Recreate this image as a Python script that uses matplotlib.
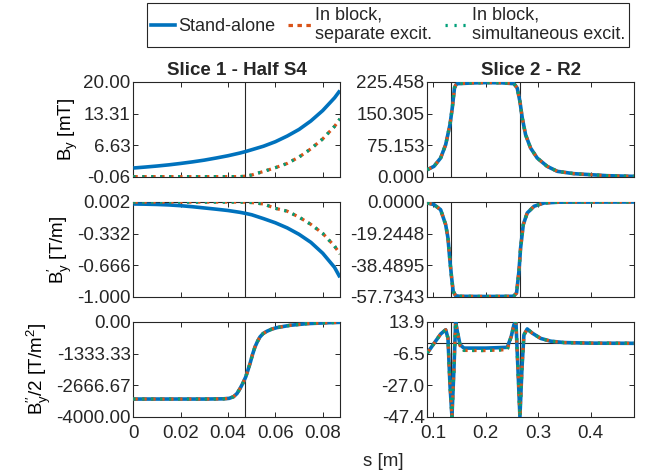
import numpy as np
import matplotlib
matplotlib.use("Agg")
import matplotlib.pyplot as plt
from matplotlib.lines import Line2D

# ── Fonts ─────────────────────────────────────────────────────────────────────
plt.rcParams["font.family"] = ["Liberation Sans", "DejaVu Sans"]
plt.rcParams["mathtext.fontset"] = "custom"
plt.rcParams["mathtext.rm"] = "Liberation Sans"
plt.rcParams["mathtext.it"] = "Liberation Sans"
FS = 13.5
INK = "#262626"

# ── Data: Slice 1 - Half S4 ───────────────────────────────────────────────────
s1 = [0, 0.005, 0.01, 0.015, 0.02, 0.025, 0.03, 0.035, 0.04, 0.045, 0.0473,
      0.05, 0.055, 0.06, 0.065, 0.07, 0.075, 0.08, 0.085, 0.0873]
s1_by_alone = [1.78, 1.98, 2.2, 2.45, 2.75, 3.08, 3.45, 3.9, 4.38, 4.95, 5.25,
               5.65, 6.4, 7.35, 8.55, 9.95, 11.75, 13.95, 16.65, 18.2]
s1_by_block = [-0.05, -0.05, -0.05, -0.05, -0.05, -0.05, -0.05, -0.05, -0.05,
               -0.05, 0.05, 0.3, 1.05, 1.85, 2.75, 4.1, 5.85, 7.95, 10.6, 12.2]
s1_gr_alone = [-0.019, -0.021, -0.024, -0.029, -0.037, -0.048, -0.061, -0.074,
               -0.088, -0.107, -0.118, -0.133, -0.174, -0.218, -0.272, -0.340,
               -0.425, -0.540, -0.690, -0.795]
s1_gr_block = [0.001, 0.001, 0.001, 0.001, 0.001, 0.001, 0.001, 0.001, 0.001,
               0.001, 0.0, -0.004, -0.019, -0.065, -0.095, -0.158, -0.235,
               -0.330, -0.465, -0.548]

s1b = [0, 0.01, 0.02, 0.03, 0.038, 0.0405, 0.0423, 0.0438, 0.0451, 0.0463,
       0.0475, 0.0484, 0.0493, 0.0503, 0.0514, 0.0525, 0.0535, 0.0548, 0.0564,
       0.0585, 0.0606, 0.0662, 0.0733, 0.0831, 0.0873]
s1_sx = [-3254, -3254, -3254, -3254, -3245, -3225, -3158, -3020, -2806, -2580,
         -2316, -2040, -1753, -1390, -1052, -810, -632, -490, -393, -300, -238,
         -140, -70, -28, -15]

# ── Data: Slice 2 - R2 ────────────────────────────────────────────────────────
s2a = [0.0886, 0.1013, 0.114, 0.1236, 0.1318, 0.1362, 0.1404, 0.143, 0.1458,
       0.1775, 0.2, 0.23, 0.2537, 0.26, 0.2651, 0.2696, 0.2759, 0.2854, 0.298,
       0.317, 0.3363, 0.368, 0.40, 0.431, 0.4825]
s2_by = [16.7, 24.7, 44.5, 76.2, 123.9, 163.6, 211.2, 218.5, 221.5, 223.3,
         224.0, 223.5, 221.5, 211.0, 179.0, 139.7, 100.0, 68.3, 44.5, 24.7,
         12.8, 7.2, 4.8, 2.4, 0.8]

s2b = [0.0886, 0.1013, 0.114, 0.1236, 0.128, 0.1318, 0.135, 0.138, 0.1426,
       0.15, 0.2, 0.25, 0.2537, 0.2587, 0.2632, 0.2664, 0.2715, 0.279, 0.292,
       0.311, 0.34, 0.4825]
s2_gr = [-0.6, -1.6, -4.7, -13.8, -22.0, -36.2, -46.3, -54.5, -57.1, -57.5,
         -57.6, -57.5, -57.2, -55.5, -42.3, -28.0, -13.8, -6.7, -2.6, -0.6,
         -0.1, 0.0]

s2c = [0.0886, 0.1013, 0.114, 0.1236, 0.128, 0.1318, 0.1356, 0.1394, 0.1426,
       0.1458, 0.151, 0.1585, 0.2, 0.241, 0.2486, 0.2537, 0.2575, 0.2613,
       0.2651, 0.269, 0.2727, 0.279, 0.2886, 0.3045, 0.3236, 0.349, 0.4,
       0.4825]
s2_sx_alone = [-6.2, 0.0, 6.1, 8.9, 3.5, -26.7, -47.4, -15.9, 13.9, 7.9, -0.8,
               -3.0, -3.0, -2.5, 4.6, 12.2, 13.9, -15.9, -47.4, -15.9, 5.5,
               9.4, 6.7, 3.3, 1.5, 0.6, 0.2, 0.1]
s2_sx_block = [-6.2, 0.0, 6.1, 8.9, 3.5, -26.7, -47.4, -15.9, 13.9, 7.9, -1.5,
               -4.5, -4.6, -4.0, 4.6, 12.2, 13.9, -15.9, -47.4, -15.9, 5.5,
               9.4, 6.7, 3.3, 1.5, 0.6, 0.2, 0.1]

# ── Axis settings ─────────────────────────────────────────────────────────────
yticks = [
    ([-0.06, 6.6267, 13.3133, 20.0], "{:.2f}"),
    ([0.0, 75.153, 150.305, 225.458], "{:.3f}"),
    ([-1.0, -0.666, -0.332, 0.002], "{:.3f}"),
    ([-57.7343, -38.4895, -19.2448, 0.0], "{:.4f}"),
    ([-4000.0, -2666.67, -1333.33, 0.0], "{:.2f}"),
    ([-47.4, -27.0, -6.5, 13.9], "{:.1f}"),
]
ylabels = [r"B$_y$ [mT]", r"B$^{\prime}_y$ [T/m]",
           r"B$^{\prime\prime}_y$/2 [T/m$^2$]"]
COL_ALONE = "#0072BD"
COL_SEP = "#D95319"
COL_SIM = "#00A07A"

W, H = 647, 471
fig = plt.figure(figsize=(W / 100, H / 100), dpi=100)
lefts = [133.3, 427.3]
tops = [82, 202, 322]
aw, ah = 206.7, 94.7

axes = []
for r, top in enumerate(tops):
    row = []
    for c, left in enumerate(lefts):
        ax = fig.add_axes([left / W, 1 - (top + ah) / H, aw / W, ah / H])
        row.append(ax)
    axes.append(row)


def draw(ax, x, alone, block):
    ax.plot(x, alone, color=COL_ALONE, lw=2.6, solid_capstyle="butt", zorder=3)
    ax.plot(x, block, color=COL_SEP, lw=2.3, ls=(0, (1.4, 1.4)), zorder=4)
    ax.plot(x, block, color=COL_SIM, lw=2.3, ls=(0, (0.7, 2.1)), zorder=5)


draw(axes[0][0], s1, s1_by_alone, s1_by_block)
draw(axes[1][0], s1, s1_gr_alone, s1_gr_block)
draw(axes[2][0], s1b, s1_sx, s1_sx)
draw(axes[0][1], s2a, s2_by, s2_by)
draw(axes[1][1], s2b, s2_gr, s2_gr)
draw(axes[2][1], s2c, s2_sx_alone, s2_sx_block)

for r in range(3):
    for c in range(2):
        ax = axes[r][c]
        ticks, fmt = yticks[r * 2 + c]
        ax.set_ylim(ticks[0], ticks[-1])
        ax.set_yticks(ticks)
        ax.set_yticklabels([fmt.format(t) for t in ticks])
        if c == 0:
            ax.set_xlim(0, 0.0873)
            ax.set_xticks([0, 0.02, 0.04, 0.06, 0.08])
            ax.axvline(0.0473, color=INK, lw=0.8, zorder=2)
            ax.set_ylabel(ylabels[r], fontsize=FS, labelpad=2)
        else:
            ax.set_xlim(0.0886, 0.4825)
            ax.set_xticks([0.1, 0.2, 0.3, 0.4])
            ax.axvline(0.1345, color=INK, lw=0.8, zorder=2)
            ax.axvline(0.265, color=INK, lw=0.8, zorder=2)
        if r < 2:
            ax.set_xticklabels([])
        else:
            if c == 0:
                ax.set_xticklabels(["0", "0.02", "0.04", "0.06", "0.08"])
            else:
                ax.set_xticklabels(["0.1", "0.2", "0.3", "0.4"])
        ax.tick_params(direction="in", top=True, right=True, length=3.5,
                       width=0.7, colors=INK, labelsize=FS, pad=2)
        ax.tick_params(axis="x", pad=6)
        for sp in ax.spines.values():
            sp.set_color(INK)
            sp.set_linewidth(0.8)

axes[2][1].axhline(0, color=INK, lw=0.8, zorder=2)

axes[0][0].set_title("Slice 1 - Half S4", fontsize=FS, fontweight="bold",
                     color=INK, pad=5)
axes[0][1].set_title("Slice 2 - R2", fontsize=FS, fontweight="bold",
                     color=INK, pad=5)
fig.text(383.5 / W, 1 - 461 / H, "s [m]", ha="center", va="center",
         fontsize=FS, color=INK)

# ── Legend ────────────────────────────────────────────────────────────────────
handles = [
    Line2D([], [], color=COL_ALONE, lw=2.6),
    Line2D([], [], color=COL_SEP, lw=2.3, ls=(0, (1.4, 1.4))),
    Line2D([], [], color=COL_SIM, lw=2.3, ls=(0, (0.7, 2.1))),
]
labels = ["Stand-alone", "In block,\nseparate excit.",
          "In block,\nsimultaneous excit."]
leg = fig.legend(handles, labels, loc="upper center", ncol=3,
                 bbox_to_anchor=(388 / W, 1 - 3 / H), fontsize=13,
                 handlelength=1.3, handletextpad=0.2, columnspacing=0.7,
                 borderpad=0.2, labelspacing=0.1, fancybox=False,
                 framealpha=1, edgecolor=INK, borderaxespad=0)
leg.get_frame().set_linewidth(0.8)
for t in leg.get_texts():
    t.set_color(INK)

fig.savefig("out.png", dpi=100)
